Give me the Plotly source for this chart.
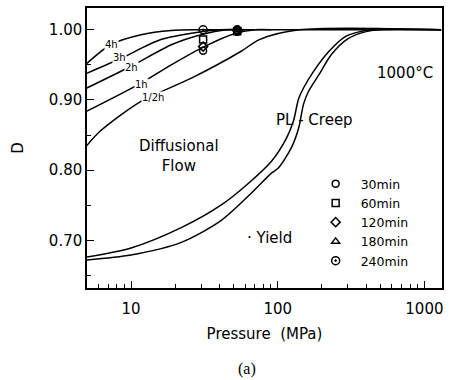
import plotly.graph_objects as go
import numpy as np

# Diffusional flow curves (Pressure MPa, D)
p_4h = [5, 7.3, 11.7, 18.8, 30, 60, 1300]
d_4h = [0.952, 0.979, 0.993, 0.999, 1.0, 1.0, 1.0]
p_3h = [5, 8.5, 16, 30, 40, 60]
d_3h = [0.938, 0.959, 0.986, 0.997, 1.0, 1.0]
p_2h = [5, 10, 19, 30, 45, 60]
d_2h = [0.917, 0.948, 0.979, 0.993, 1.0, 1.0]
p_1h = [5, 11.7, 18.8, 31.6, 50, 70, 90]
d_1h = [0.884, 0.924, 0.950, 0.976, 0.994, 1.0, 1.0]
p_05h = [5, 6.2, 11.7, 25.8, 56, 75, 140, 1300]
d_05h = [0.835, 0.856, 0.898, 0.931, 0.969, 0.986, 1.0, 1.0]

# Power-law creep curves
p_cr1 = [5, 10, 22, 41, 63, 91, 115, 128, 139, 150, 176, 223, 287, 358, 440, 1300]
d_cr1 = [0.676, 0.689, 0.718, 0.750, 0.781, 0.813, 0.846, 0.870, 0.902, 0.917, 0.941, 0.969, 0.990, 0.997, 1.0, 1.0]
p_cr2 = [5, 10, 22, 41, 66, 91, 101, 124, 139, 150, 162, 191, 233, 300, 394, 490, 1300]
d_cr2 = [0.672, 0.679, 0.697, 0.728, 0.767, 0.796, 0.803, 0.832, 0.860, 0.894, 0.912, 0.936, 0.965, 0.987, 0.997, 1.0, 1.0]

# Experimental points
exp_p = [31, 53]
d_30min = [0.970, 0.997]
d_60min = [0.986, 0.998]
d_120min = [0.976, 0.999]
d_180min = [None, 1.0]
d_240min = [1.0, 1.0]

curve_labels = ["4h", "3h", "2h", "1h", "1/2h"]
label_p = [7.4, 8.4, 10.1, 11.7, 14.2]
label_d = [0.979, 0.960, 0.946, 0.922, 0.903]

FONT = "DejaVu Sans"
fig = go.Figure()
for px_, dy_ in [(p_4h, d_4h), (p_3h, d_3h), (p_2h, d_2h), (p_1h, d_1h), (p_05h, d_05h),
                 (p_cr1, d_cr1), (p_cr2, d_cr2)]:
    fig.add_trace(go.Scatter(x=px_, y=dy_, mode="lines", line=dict(color="black", width=1.5, shape="spline", smoothing=0.8),
                             showlegend=False, hoverinfo="skip"))

series = [("30min", d_30min, "circle-open", 7), ("60min", d_60min, "square-open", 7),
          ("120min", d_120min, "diamond-open", 7), ("180min", d_180min, "triangle-up-open", 7),
          ("240min", d_240min, "circle-open-dot", 8)]
for name, vals, sym, sz in series:
    fig.add_trace(go.Scatter(x=exp_p, y=vals, mode="markers", name=name,
                             marker=dict(symbol=sym, size=sz, color="black", line=dict(width=1.5, color="black")),
                             cliponaxis=False))

for t, x, y in zip(curve_labels, label_p, label_d):
    fig.add_annotation(x=np.log10(x), y=y, text=t, showarrow=False, font=dict(family=FONT, size=10, color="black"),
                       bgcolor="white", borderpad=0)

fig.add_annotation(x=np.log10(740), y=0.938, text="1000°C", showarrow=False, font=dict(family=FONT, size=15, color="black"))
fig.add_annotation(x=np.log10(178), y=0.871, text="PL - Creep", showarrow=False, font=dict(family=FONT, size=15, color="black"))
fig.add_annotation(x=np.log10(21.3), y=0.820, text="Diffusional<br>Flow", showarrow=False, font=dict(family=FONT, size=15, color="black"))
fig.add_annotation(x=np.log10(88), y=0.703, text="· Yield", showarrow=False, font=dict(family=FONT, size=15, color="black"))
fig.add_annotation(xref="paper", yref="paper", x=0.45, y=-0.29, yanchor="middle", text="(a)", showarrow=False,
                   font=dict(family="Liberation Serif", size=16, color="black"))

fig.update_layout(
    width=457, height=380, margin=dict(l=87, r=15, t=6, b=92),
    paper_bgcolor="white", plot_bgcolor="white",
    font=dict(family=FONT, size=15, color="black"),
    legend=dict(x=0.63, y=0.425, xanchor="left", yanchor="top", bgcolor="rgba(0,0,0,0)",
                font=dict(family=FONT, size=12.5), itemwidth=40, tracegroupgap=0),
    xaxis=dict(type="log", range=[0.70, 3.12], dtick=1, tick0=0, exponentformat="none",
               ticks="inside", ticklen=7, tickwidth=1.2, tickcolor="black", ticklabelstandoff=6,
               showline=True, linecolor="black", linewidth=1.5, mirror=True, showgrid=False, zeroline=False,
               minor=dict(ticks="inside", ticklen=4, dtick="D1", tickcolor="black", showgrid=False),
               title=dict(text="Pressure  (MPa)", standoff=12, font=dict(size=15))),
    yaxis=dict(range=[0.632, 1.031], tickvals=[0.7, 0.8, 0.9, 1.0], ticktext=["0.70", "0.80", "0.90", "1.00"],
               ticks="inside", ticklen=7, tickwidth=1.2, tickcolor="black",
               showline=True, linecolor="black", linewidth=1.5, mirror=True, showgrid=False, zeroline=False,
               minor=dict(ticks="inside", ticklen=4, tickvals=[0.65, 0.75, 0.85, 0.95], tickcolor="black", showgrid=False),
               title=dict(text="D", standoff=22, font=dict(size=15))),
)
fig.write_html("out.html")
